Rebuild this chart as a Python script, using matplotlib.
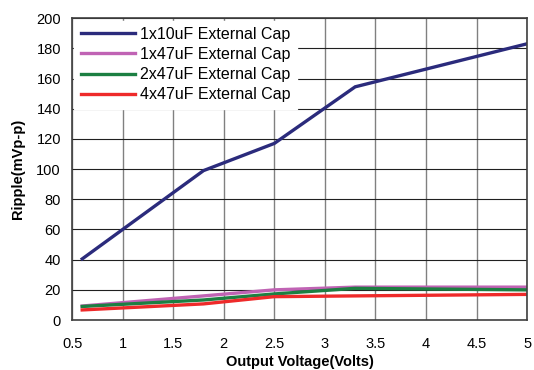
import matplotlib.pyplot as plt

plt.rcParams['font.family'] = ['Liberation Sans', 'DejaVu Sans']

vout = [0.6, 1.8, 2.5, 3.3, 5.0]
cap_10u = [40.5, 99, 117, 154.5, 183]
cap_1x47u = [9.3, 16, 20, 21.8, 21.8]
cap_2x47u = [9, 13.3, 17.3, 21, 20]
cap_4x47u = [6.7, 10.7, 15.5, 16, 17]

labels = ["1x10uF External Cap", "1x47uF External Cap",
          "2x47uF External Cap", "4x47uF External Cap"]
colors = ["#2b2b7c", "#c063b4", "#1c7f42", "#ee2a2a"]

fig = plt.figure(figsize=(5.34, 3.7), dpi=100)
ax = fig.add_axes([0.135, 0.135, 0.852, 0.816])

for ys, lab, c in zip([cap_10u, cap_1x47u, cap_2x47u, cap_4x47u], labels, colors):
    ax.plot(vout, ys, color=c, lw=2.4, label=lab, solid_joinstyle='miter')

ax.set_xlim(0.5, 5)
ax.set_ylim(0, 200)
ax.set_xticks([0.5, 1, 1.5, 2, 2.5, 3, 3.5, 4, 4.5, 5])
ax.set_xticklabels(["0.5", "1", "1.5", "2", "2.5", "3", "3.5", "4", "4.5", "5"])
ax.set_yticks(range(0, 201, 20))
ax.xaxis.grid(True, color="#808080", lw=1.0)
ax.yaxis.grid(True, color="#202020", lw=0.8)
ax.set_axisbelow(True)
ax.tick_params(length=0, labelsize=10.5)
ax.tick_params(axis="x", pad=12)
ax.tick_params(axis="y", pad=8)
for s in ax.spines.values():
    s.set_color("#404040")
    s.set_linewidth(1.2)

ax.set_xlabel("Output Voltage(Volts)", fontsize=10.5, fontweight="bold", labelpad=3)
ax.set_ylabel("Ripple(mVp-p)", fontsize=10.5, fontweight="bold", labelpad=8)

leg = ax.legend(loc="upper left", fontsize=11.5, frameon=True, fancybox=False,
                edgecolor="white", framealpha=1, borderaxespad=0.15,
                handlelength=3.4, labelspacing=0.32, handletextpad=0.3,
                borderpad=0.4)

fig.savefig("out.png", dpi=100)
